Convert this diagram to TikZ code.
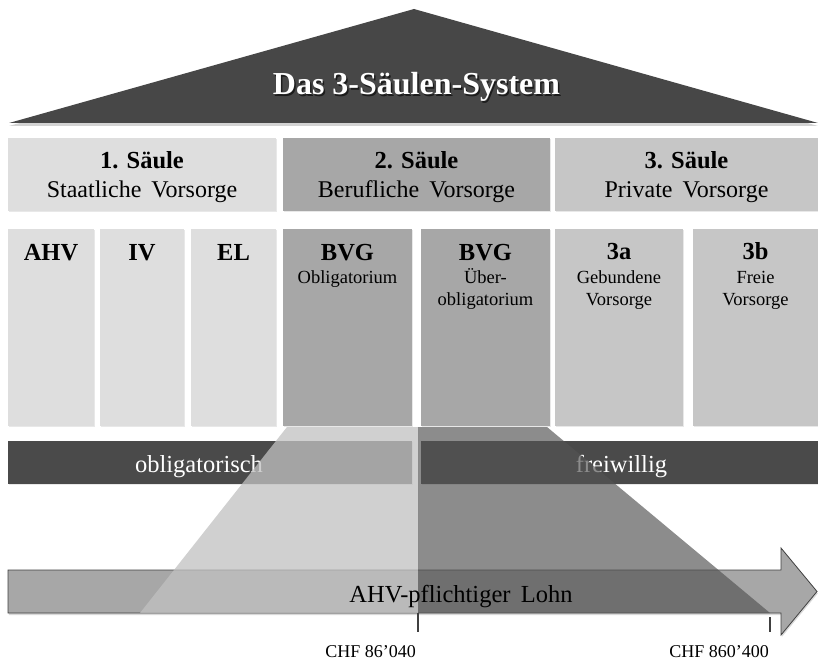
\documentclass[tikz,border=0pt]{standalone}
\usepackage{fontspec}
\setmainfont{Liberation Serif}
\usetikzlibrary{calc,shadows}

\definecolor{roofgray}{gray}{0.28}
\definecolor{pillarA}{gray}{0.87}
\definecolor{pillarB}{gray}{0.655}
\definecolor{pillarC}{gray}{0.775}
\definecolor{bargray}{gray}{0.29}
\definecolor{arrowgray}{gray}{0.655}
\definecolor{edgegray}{gray}{0.25}
\definecolor{lighttrap}{gray}{0.757}
\definecolor{darktrap}{gray}{0.33}

\newcommand\widespace{\spaceskip=0.42em plus 0.1em\relax}

\begin{document}
\begin{tikzpicture}[x=1pt,y=-1pt,
  pbox/.style={draw=none, inner sep=0pt, outer sep=0pt,
    drop shadow={shadow xshift=0.8pt, shadow yshift=-1.2pt, opacity=0.18}},
  hdbold/.style={font=\fontsize{24.5}{27}\selectfont\bfseries, anchor=base, inner sep=0pt},
  hdtext/.style={font=\fontsize{24}{27}\selectfont\widespace, anchor=base, inner sep=0pt},
  smalltext/.style={font=\fontsize{18.5}{21}\selectfont, anchor=base, inner sep=0pt},
  bartext/.style={font=\fontsize{24.5}{27}\selectfont, text=white, anchor=base, inner sep=0pt},
  lohntext/.style={font=\fontsize{24.5}{27}\selectfont\widespace, anchor=base, inner sep=0pt},
  chf/.style={font=\fontsize{18}{20}\selectfont, anchor=base east, inner sep=0pt},
  tick/.style={draw=edgegray, line width=2pt},
]
\useasboundingbox (0,0) rectangle (818,660);

% roof
\fill[roofgray, drop shadow={shadow xshift=0pt, shadow yshift=-3pt, opacity=0.35}]
  (9,123) -- (414,9) -- (818,123) -- cycle;
\node[font=\fontsize{32}{34}\selectfont\bfseries, text=black, opacity=0.6, anchor=base, inner sep=0pt]
  (titleshadow) at (418,96.5) {Das 3-Säulen-System};
\node[font=\fontsize{32}{34}\selectfont\bfseries, text=white, anchor=base, inner sep=0pt]
  (title) at (416.5,95) {Das 3-Säulen-System};

% pillar headers
\node[pbox, fill=pillarA, minimum width=268pt, minimum height=73pt] (h1) at (142,174.5) {};
\node[pbox, fill=pillarB, minimum width=267pt, minimum height=73pt] (h2) at (416.5,174.5) {};
\node[pbox, fill=pillarC, minimum width=263pt, minimum height=73pt] (h3) at (686.5,174.5) {};
\node[hdbold] (h1a) at ($(h1.north)+(0,31)$) {1. Säule};
\node[hdtext] (h1b) at ($(h1.north)+(0,60)$) {Staatliche Vorsorge};
\node[hdbold] (h2a) at ($(h2.north)+(0,31)$) {2. Säule};
\node[hdtext] (h2b) at ($(h2.north)+(0,60)$) {Berufliche Vorsorge};
\node[hdbold] (h3a) at ($(h3.north)+(0,31)$) {3. Säule};
\node[hdtext] (h3b) at ($(h3.north)+(0,60)$) {Private Vorsorge};

% columns
\node[pbox, fill=pillarA, minimum width=86pt,  minimum height=197pt] (ahv)  at (51,327.5) {};
\node[pbox, fill=pillarA, minimum width=84pt,  minimum height=197pt] (iv)   at (142,327.5) {};
\node[pbox, fill=pillarA, minimum width=85pt,  minimum height=197pt] (el)   at (233.5,327.5) {};
\node[pbox, fill=pillarB, minimum width=129pt, minimum height=197pt] (bvgo) at (347.5,327.5) {};
\node[pbox, fill=pillarB, minimum width=129pt, minimum height=197pt] (bvgu) at (485.5,327.5) {};
\node[pbox, fill=pillarC, minimum width=128pt, minimum height=197pt] (sa)   at (619,327.5) {};
\node[pbox, fill=pillarC, minimum width=125pt, minimum height=197pt] (sb)   at (755.5,327.5) {};

\node[hdbold] (ahvt)  at ($(ahv.north)+(0,31)$)  {AHV};
\node[hdbold] (ivt)   at ($(iv.north)+(0,31)$)   {IV};
\node[hdbold] (elt)   at ($(el.north)+(0,31)$)   {EL};
\node[hdbold] (bvgot) at ($(bvgo.north)+(0,31)$) {BVG};
\node[hdbold] (bvgut) at ($(bvgu.north)+(0,31)$) {BVG};
\node[hdbold] (sat)   at ($(sa.north)+(0,30)$)   {3a};
\node[hdbold] (sbt)   at ($(sb.north)+(0,30)$)   {3b};
\node[smalltext] (bvgo1) at ($(bvgo.north)+(0,54)$) {Obligatorium};
\node[smalltext] (bvgu1) at ($(bvgu.north)+(0,54)$) {Über-};
\node[smalltext] (bvgu2) at ($(bvgu.north)+(0,76)$) {obligatorium};
\node[smalltext] (sa1)   at ($(sa.north)+(0,54)$)   {Gebundene};
\node[smalltext] (sa2)   at ($(sa.north)+(0,76)$)   {Vorsorge};
\node[smalltext] (sb1)   at ($(sb.north)+(0,54)$)   {Freie};
\node[smalltext] (sb2)   at ($(sb.north)+(0,76)$)   {Vorsorge};

% obligatory / voluntary bars
\node[pbox, fill=bargray, minimum width=404pt, minimum height=43pt] (obl)  at (210,462.5) {};
\node[pbox, fill=bargray, minimum width=397pt, minimum height=43pt] (frei) at (619.5,462.5) {};
\node[bartext] (oblt)  at ($(obl.north)+(-11,31)$) {obligatorisch};
\node[bartext] (freit) at ($(frei.north)+(2,31)$)  {freiwillig};

% salary axis
\filldraw[fill=arrowgray, draw=edgegray, line width=0.8pt,
  drop shadow={shadow xshift=0.8pt, shadow yshift=-2pt, opacity=0.3}]
  (8,570) -- (781,570) -- (781,548) -- (817,591.5) -- (781,635) -- (781,613) -- (8,613) -- cycle;

% insured salary bands
\fill[lighttrap, opacity=0.76] (287,427) -- (418,427) -- (418,613) -- (140,613) -- cycle;
\fill[darktrap, opacity=0.67]  (418,427) -- (547,427) -- (770,613) -- (418,613) -- cycle;

\node[lohntext] (lohn) at (461,602) {AHV-pflichtiger Lohn};

% thresholds
\coordinate (t1a) at (418,613);
\coordinate (t1b) at (418,632);
\coordinate (t2a) at (770,617);
\coordinate (t2b) at (770,632);
\draw[tick] (t1a) -- (t1b);
\draw[tick] (t2a) -- (t2b);
\node[chf] (chf1) at (416,657) {CHF 86’040};
\node[chf] (chf2) at (769,657) {CHF 860’400};
\end{tikzpicture}
\end{document}
